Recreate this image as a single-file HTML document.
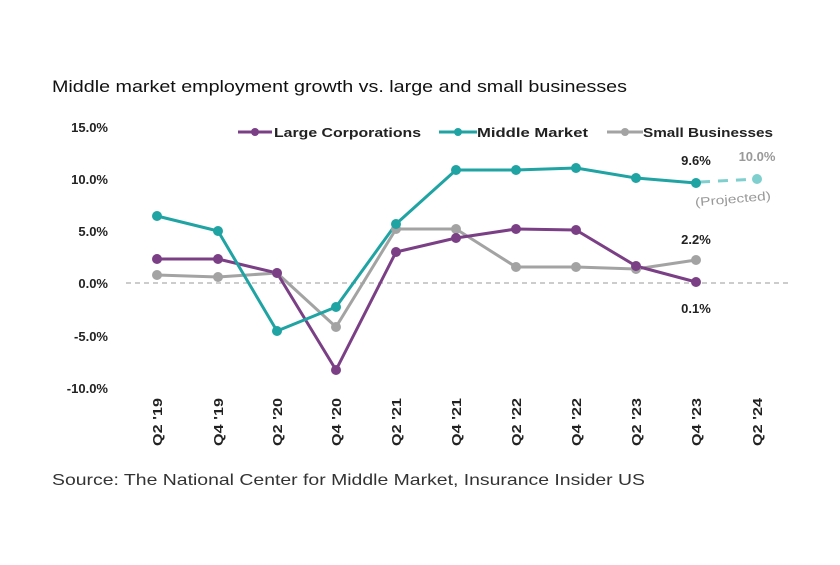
<!DOCTYPE html>
<html><head><style>body{margin:0;background:#fff}svg{display:block}</style></head><body>
<svg width="840" height="565" xmlns="http://www.w3.org/2000/svg" font-family="'Liberation Sans', 'DejaVu Sans', sans-serif">
<text x="52" y="92" font-size="17" fill="#111" textLength="575" lengthAdjust="spacingAndGlyphs">Middle market employment growth vs. large and small businesses</text>
<g font-size="13" font-weight="bold" fill="#222" text-anchor="end">
<text x="108" y="132">15.0%</text><text x="108" y="184">10.0%</text><text x="108" y="236">5.0%</text>
<text x="108" y="288">0.0%</text><text x="108" y="341">-5.0%</text><text x="108" y="393">-10.0%</text>
</g>
<line x1="126" y1="283" x2="788" y2="283" stroke="#999" stroke-dasharray="5,4" stroke-width="1"/>
<g font-size="13" font-weight="bold" fill="#222" text-anchor="end">
<text transform="translate(162,398) rotate(-90)" textLength="48" lengthAdjust="spacingAndGlyphs">Q2 '19</text>
<text transform="translate(223,398) rotate(-90)" textLength="48" lengthAdjust="spacingAndGlyphs">Q4 '19</text>
<text transform="translate(282,398) rotate(-90)" textLength="48" lengthAdjust="spacingAndGlyphs">Q2 '20</text>
<text transform="translate(341,398) rotate(-90)" textLength="48" lengthAdjust="spacingAndGlyphs">Q4 '20</text>
<text transform="translate(401,398) rotate(-90)" textLength="48" lengthAdjust="spacingAndGlyphs">Q2 '21</text>
<text transform="translate(461,398) rotate(-90)" textLength="48" lengthAdjust="spacingAndGlyphs">Q4 '21</text>
<text transform="translate(521,398) rotate(-90)" textLength="48" lengthAdjust="spacingAndGlyphs">Q2 '22</text>
<text transform="translate(581,398) rotate(-90)" textLength="48" lengthAdjust="spacingAndGlyphs">Q4 '22</text>
<text transform="translate(641,398) rotate(-90)" textLength="48" lengthAdjust="spacingAndGlyphs">Q2 '23</text>
<text transform="translate(701,398) rotate(-90)" textLength="48" lengthAdjust="spacingAndGlyphs">Q4 '23</text>
<text transform="translate(762,398) rotate(-90)" textLength="48" lengthAdjust="spacingAndGlyphs">Q2 '24</text>
</g>
<g fill="none" stroke-width="3" stroke-linejoin="round">
<polyline stroke="#a3a3a3" points="157,275 218,277 277,273 336,327 396,229 456,229 516,267 576,267 636,269 696,260"/>
<polyline stroke="#7b3f86" points="157,259 218,259 277,273 336,370 396,252 456,238 516,229 576,230 636,266 696,282"/>
<polyline stroke="#1fa3a3" points="157,216 218,231 277,331 336,307 396,224 456,170 516,170 576,168 636,178 696,183"/>
<line x1="700" y1="182" x2="757" y2="179" stroke="#7fcfcf" stroke-dasharray="10,8"/>
</g>
<g fill="#a3a3a3"><circle cx="157" cy="275" r="5"/><circle cx="218" cy="277" r="5"/><circle cx="277" cy="273" r="5"/><circle cx="336" cy="327" r="5"/><circle cx="396" cy="229" r="5"/><circle cx="456" cy="229" r="5"/><circle cx="516" cy="267" r="5"/><circle cx="576" cy="267" r="5"/><circle cx="636" cy="269" r="5"/><circle cx="696" cy="260" r="5"/></g>
<g fill="#7b3f86"><circle cx="157" cy="259" r="5"/><circle cx="218" cy="259" r="5"/><circle cx="277" cy="273" r="5"/><circle cx="336" cy="370" r="5"/><circle cx="396" cy="252" r="5"/><circle cx="456" cy="238" r="5"/><circle cx="516" cy="229" r="5"/><circle cx="576" cy="230" r="5"/><circle cx="636" cy="266" r="5"/><circle cx="696" cy="282" r="5"/></g>
<g fill="#1fa3a3"><circle cx="157" cy="216" r="5"/><circle cx="218" cy="231" r="5"/><circle cx="277" cy="331" r="5"/><circle cx="336" cy="307" r="5"/><circle cx="396" cy="224" r="5"/><circle cx="456" cy="170" r="5"/><circle cx="516" cy="170" r="5"/><circle cx="576" cy="168" r="5"/><circle cx="636" cy="178" r="5"/><circle cx="696" cy="183" r="5"/></g>
<circle cx="757" cy="179" r="5" fill="#7fcfcf"/>
<g font-size="13" font-weight="bold" fill="#222" text-anchor="middle">
<text x="696" y="165">9.6%</text><text x="696" y="244">2.2%</text><text x="696" y="313">0.1%</text>
</g>
<text x="757" y="161" font-size="13" font-weight="bold" fill="#999" text-anchor="middle">10.0%</text>
<text x="733" y="203" font-size="12" fill="#999" text-anchor="middle" transform="rotate(-5 733 200)" textLength="76" lengthAdjust="spacingAndGlyphs">(Projected)</text>
<g font-size="13" font-weight="bold" fill="#222">
<line x1="238" y1="132" x2="272" y2="132" stroke="#7b3f86" stroke-width="3"/><circle cx="255" cy="132" r="4" fill="#7b3f86"/>
<text x="274" y="137" textLength="147" lengthAdjust="spacingAndGlyphs">Large Corporations</text>
<line x1="439" y1="132" x2="477" y2="132" stroke="#1fa3a3" stroke-width="3"/><circle cx="458" cy="132" r="4" fill="#1fa3a3"/>
<text x="477" y="137" textLength="111" lengthAdjust="spacingAndGlyphs">Middle Market</text>
<line x1="607" y1="132" x2="643" y2="132" stroke="#a3a3a3" stroke-width="3"/><circle cx="625" cy="132" r="4" fill="#a3a3a3"/>
<text x="643" y="137" textLength="130" lengthAdjust="spacingAndGlyphs">Small Businesses</text>
</g>
<text x="52" y="485" font-size="16" fill="#333" textLength="593" lengthAdjust="spacingAndGlyphs">Source: The National Center for Middle Market, Insurance Insider US</text>
</svg>
</body></html>
